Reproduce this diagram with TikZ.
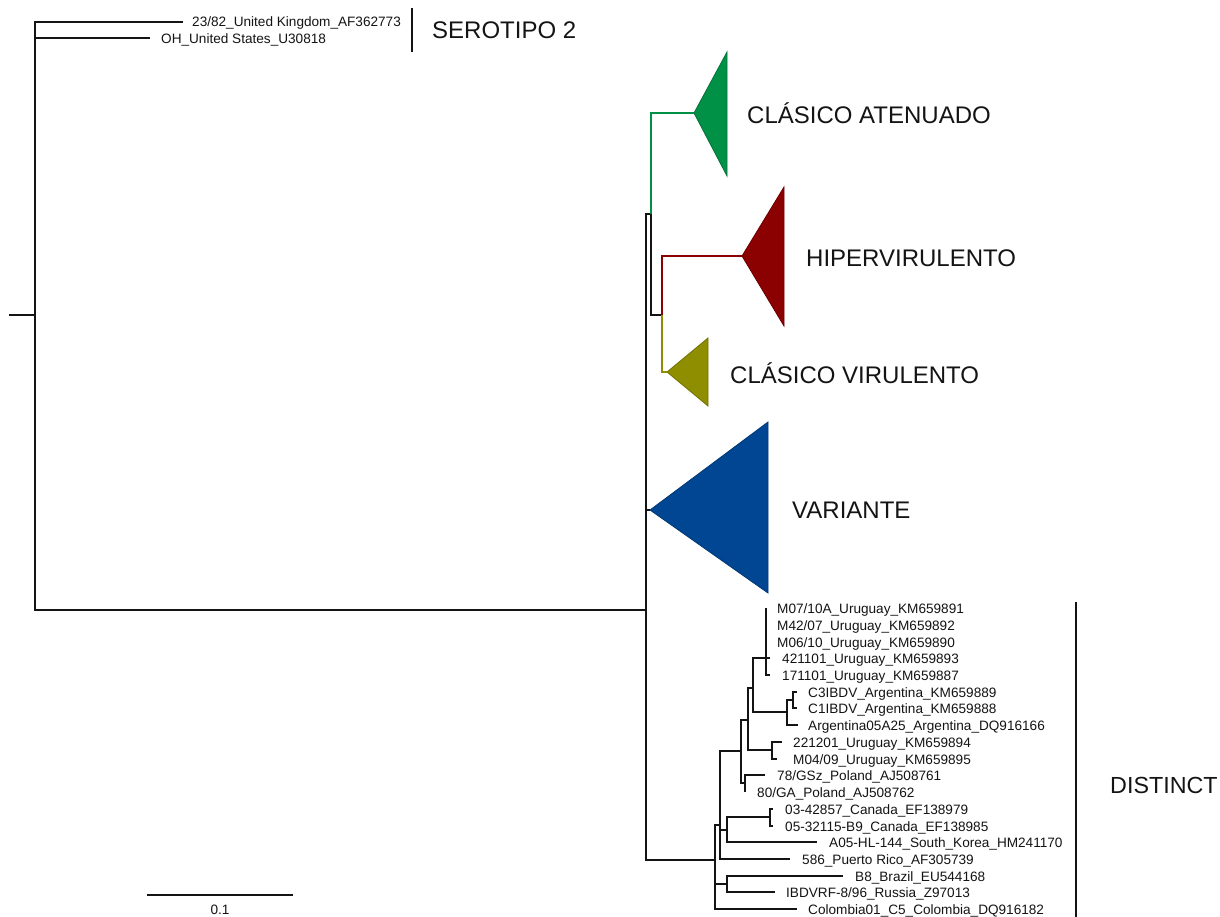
\documentclass[tikz,border=0pt]{standalone}
\usepackage{fontspec}
\setmainfont{Liberation Sans}
\definecolor{cgreen}{RGB}{0,145,70}
\definecolor{cred}{RGB}{139,0,0}
\definecolor{colive}{RGB}{142,142,0}
\definecolor{cblue}{RGB}{0,70,146}
\definecolor{ink}{RGB}{20,20,20}
\begin{document}
\begin{tikzpicture}[x=1pt,y=-1pt,
  tree/.style={line width=2.2pt, draw=ink},
  ctree/.style={line width=1.7pt},
  bar/.style={line width=2.2pt, draw=ink},
  leaf/.style={anchor=base west, font=\fontsize{13.6}{16}\selectfont, inner sep=0pt, text=ink},
  big/.style={anchor=base west, font=\fontsize{24}{28}\selectfont, inner sep=0pt, text=ink},
  clade/.style={line width=0.8pt, line join=miter}]
\useasboundingbox[fill=white] (0,0) rectangle (1220,917);

% ---------- coordinates ----------
\coordinate (r0) at (9,315);
\coordinate (r) at (35,315);
\coordinate (tUK) at (183,22);
\coordinate (tOH) at (150,38);
\coordinate (nA) at (646,610);
\coordinate (nB) at (651,214);
\coordinate (nC) at (662,315);
\coordinate (gA) at (694,113);
\coordinate (rA) at (742,256);
\coordinate (oA) at (667,372);
\coordinate (bA) at (650,510);
\coordinate (nD) at (715,860);
\coordinate (n720) at (720,825);
\coordinate (n727b) at (727,884);
\coordinate (tCol) at (797,909);
\coordinate (n741) at (741,751);
\coordinate (n727) at (727,830);
\coordinate (tPR) at (790,859);
\coordinate (nCan) at (770,817);
\coordinate (tKor) at (817,842);
\coordinate (tCan1) at (773,809);
\coordinate (tCan2) at (773,826);
\coordinate (tBra) at (843,876);
\coordinate (tRus) at (775,892);
\coordinate (n748) at (748,720);
\coordinate (nPol) at (745,783);
\coordinate (tGSz) at (765,775);
\coordinate (tGA) at (745,792);
\coordinate (n753) at (753,688);
\coordinate (n772) at (772,750);
\coordinate (t221) at (782,742);
\coordinate (tM04) at (777,759);
\coordinate (nU) at (766,658);
\coordinate (nArg) at (787,712);
\coordinate (tM07) at (766,608);
\coordinate (tM42) at (766,625);
\coordinate (tM06) at (766,642);
\coordinate (t421) at (770,658);
\coordinate (t171) at (770,675);
\coordinate (nC3) at (793,700);
\coordinate (tArg) at (798,725);
\coordinate (tC3) at (797,692);
\coordinate (tC1) at (797,708);
\coordinate (sb1) at (147,895);
\coordinate (sb2) at (293,895);
\coordinate (bs1) at (412,8);
\coordinate (bs2) at (412,52);
\coordinate (bd1) at (1076,602);
\coordinate (bd2) at (1076,917);

% ---------- collapsed clades ----------
\fill[cgreen] (gA) -- (727,52) -- (727,176) -- cycle;
\draw[clade, draw=cgreen!80!black] (gA) -- (727,52) -- (727,176) -- cycle;
\fill[cred] (rA) -- (784,187) -- (784,326) -- cycle;
\draw[clade, draw=cred!80!black] (rA) -- (784,187) -- (784,326) -- cycle;
\fill[colive] (oA) -- (708,338) -- (708,406) -- cycle;
\draw[clade, draw=colive!80!black] (oA) -- (708,338) -- (708,406) -- cycle;
\fill[cblue] (bA) -- (768,422) -- (768,593) -- cycle;
\draw[clade, draw=cblue!80!black] (bA) -- (768,422) -- (768,593) -- cycle;

% ---------- tree ----------
\draw[tree] (r0) -- (r);
\draw[tree] (r) |- (tUK);
\draw[tree] (r) |- (tOH);
\draw[tree] (r) |- (nA);
\draw[tree] (nA) |- (nB);
\draw[tree] (nA) |- (bA);
\draw[tree] (nA) |- (nD);
\draw[ctree, draw=cgreen] (nB) |- (gA);
\draw[ctree, draw=ink] (nB) |- (nC);
\draw[ctree, draw=cred] (nC) |- (rA);
\draw[ctree, draw=colive] (nC) |- (oA);

\draw[tree] (nD) |- (n720);
\draw[tree] (nD) |- (n727b);
\draw[tree] (nD) |- (tCol);
\draw[tree] (n720) |- (n741);
\draw[tree] (n720) |- (n727);
\draw[tree] (n720) |- (tPR);
\draw[tree] (n727) |- (nCan);
\draw[tree] (n727) |- (tKor);
\draw[tree] (nCan) |- (tCan1);
\draw[tree] (nCan) |- (tCan2);
\draw[tree] (n727b) |- (tBra);
\draw[tree] (n727b) |- (tRus);
\draw[tree] (n741) |- (n748);
\draw[tree] (n741) |- (nPol);
\draw[tree] (nPol) |- (tGSz);
\draw[tree] (nPol) |- (tGA);
\draw[tree] (n748) |- (n753);
\draw[tree] (n748) |- (n772);
\draw[tree] (n772) |- (t221);
\draw[tree] (n772) |- (tM04);
\draw[tree] (n753) |- (nU);
\draw[tree] (n753) |- (nArg);
\draw[tree] (nU) |- (tM07);
\draw[tree] (nU) |- (tM42);
\draw[tree] (nU) |- (tM06);
\draw[tree] (nU) |- (t421);
\draw[tree] (nU) |- (t171);
\draw[tree] (nArg) |- (nC3);
\draw[tree] (nArg) |- (tArg);
\draw[tree] (nC3) |- (tC3);
\draw[tree] (nC3) |- (tC1);

% ---------- bars ----------
\draw[bar] (bs1) -- (bs2);
\draw[bar] (bd1) -- (bd2);
\draw[line width=1.4pt, draw=ink] (sb1) -- (sb2);

% ---------- leaf labels ----------
\node[leaf] (lUK) at (192,27) {23/82\_United Kingdom\_AF362773};
\node[leaf] (lOH) at (161,44) {OH\_United States\_U30818};
\node[leaf] (lM07) at (777,613) {M07/10A\_Uruguay\_KM659891};
\node[leaf] (lM42) at (777,630) {M42/07\_Uruguay\_KM659892};
\node[leaf] (lM06) at (777,647) {M06/10\_Uruguay\_KM659890};
\node[leaf] (l421) at (782,663) {421101\_Uruguay\_KM659893};
\node[leaf] (l171) at (782,680) {171101\_Uruguay\_KM659887};
\node[leaf] (lC3) at (808,697) {C3IBDV\_Argentina\_KM659889};
\node[leaf] (lC1) at (808,713) {C1IBDV\_Argentina\_KM659888};
\node[leaf] (lArg) at (808,730) {Argentina05A25\_Argentina\_DQ916166};
\node[leaf] (l221) at (793,747) {221201\_Uruguay\_KM659894};
\node[leaf] (lM04) at (793,764) {M04/09\_Uruguay\_KM659895};
\node[leaf] (lGSz) at (777,780) {78/GSz\_Poland\_AJ508761};
\node[leaf] (lGA) at (757,797) {80/GA\_Poland\_AJ508762};
\node[leaf] (lCan1) at (785,814) {03-42857\_Canada\_EF138979};
\node[leaf] (lCan2) at (785,831) {05-32115-B9\_Canada\_EF138985};
\node[leaf] (lKor) at (829,847) {A05-HL-144\_South\_Korea\_HM241170};
\node[leaf] (lPR) at (802,864) {586\_Puerto Rico\_AF305739};
\node[leaf] (lBra) at (855,881) {B8\_Brazil\_EU544168};
\node[leaf] (lRus) at (786,897) {IBDVRF-8/96\_Russia\_Z97013};
\node[leaf] (lCol) at (808,914) {Colombia01\_C5\_Colombia\_DQ916182};
\node[font=\fontsize{13.6}{16}\selectfont, text=ink, inner sep=0pt] (lsb) at (220,910) {0.1};

% ---------- group labels ----------
\node[big] (gSer) at (432,39) {SEROTIPO 2};
\node[big] (gAt) at (747,124) {CLÁSICO ATENUADO};
\node[big] (gHip) at (806,266) {HIPERVIRULENTO};
\node[big] (gVir) at (730,383) {CLÁSICO VIRULENTO};
\node[big] (gVar) at (792,518) {VARIANTE};
\node[big, font=\fontsize{23.3}{28}\selectfont] (gDis) at (1110,793) {DISTINCT};
\end{tikzpicture}
\end{document}
